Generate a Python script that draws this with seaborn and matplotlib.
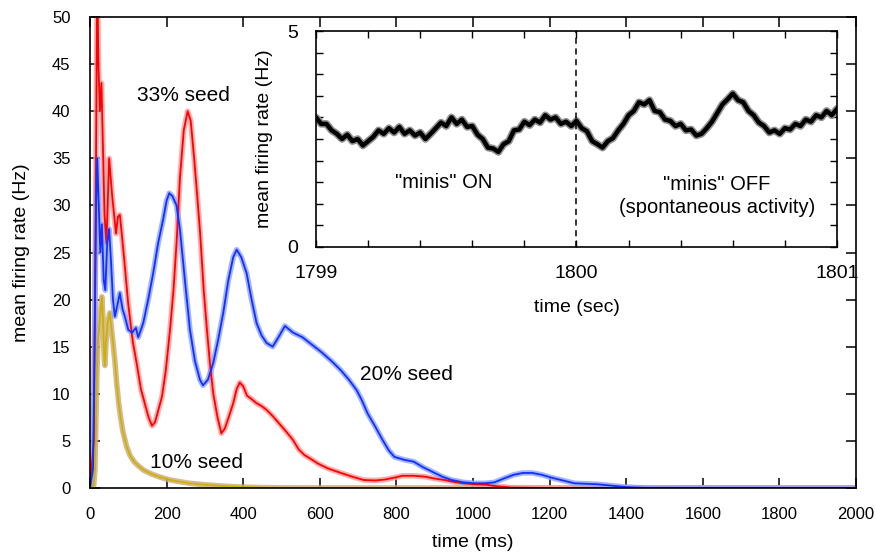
import numpy as np
import pandas as pd
import matplotlib
matplotlib.use("Agg")
import matplotlib.pyplot as plt
import seaborn as sns

# ---------------- data ----------------
red_t = [0, 10, 15, 19, 22, 26, 30, 34, 38, 43, 47, 50, 54, 58, 63, 68, 73, 78, 83, 90,
         100, 112, 123, 133, 143, 153, 162, 170, 180, 188, 198, 209, 218, 226, 235, 245,
         255, 263, 272, 280, 287, 297, 305, 313, 322, 333, 343, 352, 362, 374, 383, 391,
         400, 410, 420, 435, 448, 461, 478, 495, 512, 530, 545, 560, 580, 595, 620, 655,
         685, 715, 745, 770, 795, 816, 845, 876, 900, 926, 950, 975, 1005, 1035, 1060,
         1100, 1200, 2000]
red_v = [0, 5, 30, 55, 45, 40, 43, 36, 29, 26, 31, 35, 33, 31, 29, 27, 28.8, 29, 27, 24,
         19.5, 15.5, 13, 10.5, 9, 7.5, 6.6, 7, 8.5, 9.7, 12.5, 16.8, 21, 26, 33, 38,
         40, 39, 35, 31, 27.4, 21, 17, 13.3, 10, 7.5, 5.8, 6.3, 7.5, 9, 10.5, 11.2,
         10.8, 9.8, 9.5, 9, 8.7, 8.3, 7.6, 6.8, 6.0, 5.1, 4.1, 3.5, 3.0, 2.6, 2.1, 1.6,
         1.2, 0.85, 0.8, 0.9, 1.1, 1.3, 1.3, 1.2, 1.0, 0.85, 0.65, 0.5, 0.4, 0.35, 0.2,
         0.05, 0, 0]

blue_t = [0, 8, 12, 16, 19, 23, 27, 31, 36, 40, 45, 50, 55, 60, 65, 72, 78, 85, 91, 100,
          110, 120, 126, 139, 152, 165, 178, 191, 200, 207, 215, 226, 235, 248, 261, 274,
          287, 295, 308, 322, 335, 348, 361, 374, 383, 395, 409, 422, 435, 448, 461, 477,
          492, 509, 530, 555, 580, 605, 630, 655, 676, 696, 710, 725, 745, 764, 780, 795,
          820, 845, 870, 895, 920, 944, 975, 1004, 1030, 1056, 1080, 1106, 1130, 1155,
          1180, 1205, 1235, 1265, 1295, 1324, 1350, 1374, 1400, 1450, 2000]
blue_v = [0, 2, 15, 30, 35, 30, 25, 28, 22, 21, 26, 27.5, 24, 20, 18.2, 19.5, 20.7, 19,
          18.2, 16.8, 16.5, 17, 16, 17.5, 20, 22.8, 26, 28.5, 30.5, 31.3, 31, 30, 27.4,
          22, 16.8, 13.5, 11.5, 10.9, 11.5, 13.3, 15.8, 18.6, 22, 24.5, 25.3, 24.5, 22.8,
          20, 17.5, 16.2, 15.4, 15, 16, 17.2, 16.5, 16, 15.2, 14.4, 13.5, 12.5, 11.5,
          10.4, 9.3, 7.9, 6.5, 5.1, 4, 3.3, 3, 2.8, 2.2, 1.7, 1.2, 0.85, 0.6, 0.5, 0.5,
          0.6, 1, 1.4, 1.6, 1.6, 1.4, 1.1, 0.8, 0.5, 0.45, 0.4, 0.3, 0.2, 0.1, 0.02, 0]

yel_t = [0, 10, 13, 16, 18, 21, 24, 28, 31, 34, 37, 39, 42, 46, 52, 56, 60, 65, 70, 75,
         80, 86, 95, 104, 115, 125, 140, 160, 180, 204, 230, 260, 300, 350, 400, 450,
         500, 2000]
yel_v = [0, 0.3, 2, 8, 12, 16, 17, 19, 20.3, 18, 14, 13, 15.5, 17.5, 18.6, 17, 15.5,
         13.5, 11, 9, 7.5, 6, 4.5, 3.5, 2.8, 2.4, 1.9, 1.5, 1.2, 0.9, 0.7, 0.5, 0.35,
         0.2, 0.1, 0.05, 0.02, 0]

# inset trace, sampled every 0.02 s from 1799 to 1801
ins_v = [3.00, 2.85, 2.85, 2.70, 2.62, 2.50, 2.60, 2.45, 2.50, 2.35,
         2.45, 2.55, 2.70, 2.62, 2.75, 2.65, 2.78, 2.62, 2.70, 2.58,
         2.65, 2.50, 2.62, 2.75, 2.88, 2.80, 3.00, 2.85, 2.95, 2.78,
         2.80, 2.60, 2.50, 2.30, 2.28, 2.20, 2.38, 2.45, 2.70, 2.72,
         2.90, 2.82, 2.95, 2.88, 3.05, 2.95, 3.00, 2.85, 2.90, 2.80,
         2.92, 2.75, 2.68, 2.45, 2.38, 2.30, 2.45, 2.52, 2.70, 2.85,
         3.05, 3.15, 3.35, 3.30, 3.40, 3.15, 3.12, 2.95, 2.92, 2.80,
         2.85, 2.70, 2.72, 2.58, 2.62, 2.75, 2.90, 3.10, 3.30, 3.42,
         3.55, 3.40, 3.35, 3.15, 3.05, 2.88, 2.80, 2.65, 2.70, 2.62,
         2.75, 2.72, 2.85, 2.80, 2.95, 2.90, 3.05, 3.00, 3.15, 3.05,
         3.20]
ins_t = np.round(np.linspace(1799, 1801, len(ins_v)), 2)

x_ticks = [0, 200, 400, 600, 800, 1000, 1200, 1400, 1600, 1800, 2000]
y_ticks = [0, 5, 10, 15, 20, 25, 30, 35, 40, 45, 50]
inset_xticks = [1799, 1800, 1801]
inset_yticks = [0, 5]

# ---------------- style ----------------
sns.set_theme(style="ticks")
plt.rcParams['font.family'] = ['Liberation Sans', 'DejaVu Sans']
plt.rcParams['axes.linewidth'] = 1.2
plt.rcParams['text.color'] = 'black'
plt.rcParams['axes.labelcolor'] = 'black'
plt.rcParams['xtick.color'] = 'black'
plt.rcParams['ytick.color'] = 'black'

fig = plt.figure(figsize=(8.76, 5.54), dpi=100)
ax = fig.add_axes([0.1027, 0.1191, 0.8745, 0.8502])

series = [
    (yel_t, yel_v, "#c8b400", "#cfa87c"),
    (red_t, red_v, "#ff0000", "#ff9a9a"),
    (blue_t, blue_v, "#1030ff", "#8ea2ff"),
]
for t, v, c, pale in series:
    df = pd.DataFrame({"t": t, "v": v})
    sns.lineplot(data=df, x="t", y="v", ax=ax, color=pale, lw=4.0, alpha=0.8)
for t, v, c, pale in series:
    df = pd.DataFrame({"t": t, "v": v})
    sns.lineplot(data=df, x="t", y="v", ax=ax, color=c, lw=1.3)

ax.set_xlim(0, 2000)
ax.set_ylim(0, 50)
ax.set_xticks(x_ticks)
ax.set_yticks(y_ticks)
ax.tick_params(direction="in", length=7, width=1.1, top=True, right=True,
               labelsize=12, colors="black")
ax.tick_params(axis="y", pad=14)
ax.tick_params(axis="x", pad=14)
for s in ax.spines.values():
    s.set_visible(True)
    s.set_color("black")
ax.set_xlabel("time (ms)", fontsize=14, labelpad=8, color="black")
ax.set_ylabel("mean firing rate (Hz)", fontsize=14, labelpad=16, color="black")

ax.text(245, 41.7, "33% seed", fontsize=15, ha="center", va="center", color="black")
ax.text(825, 12.0, "20% seed", fontsize=15, ha="center", va="center", color="black")
ax.text(277, 2.76, "10% seed", fontsize=15, ha="center", va="center", color="black")

# ---------------- inset ----------------
ins = fig.add_axes([0.3607, 0.5542, 0.5948, 0.3898])
dfi = pd.DataFrame({"t": ins_t, "v": ins_v})
sns.lineplot(data=dfi, x="t", y="v", ax=ins, color="#909090", lw=5.5)
sns.lineplot(data=dfi, x="t", y="v", ax=ins, color="black", lw=3.2)
ins.axvline(1800, color="black", ls=(0, (4, 3)), lw=1.1)
ins.set_xlim(1799, 1801)
ins.set_ylim(0, 5)
ins.set_xticks(inset_xticks)
ins.set_xticklabels([str(v) for v in inset_xticks])
ins.set_yticks(inset_yticks)
ins.set_xticks(np.arange(1799, 1801.001, 0.2), minor=True)
ins.set_yticks(np.arange(0, 5.001, 0.5), minor=True)
ins.tick_params(which="both", direction="in", length=5, width=1.0, top=True,
                right=True, labelsize=14, pad=13, colors="black")
ins.tick_params(which="minor", length=5)
for s in ins.spines.values():
    s.set_visible(True)
    s.set_color("black")
ins.set_xlabel("time (sec)", fontsize=14, labelpad=12, color="black")
ins.set_ylabel("mean firing rate (Hz)", fontsize=14, labelpad=10, color="black")
ins.text(1799.49, 1.5, '"minis" ON', fontsize=14.5, ha="center", va="center",
         color="black")
ins.text(1800.54, 1.45, '"minis" OFF', fontsize=14.5, ha="center", va="center",
         color="black")
ins.text(1800.54, 0.92, '(spontaneous activity)', fontsize=14.5, ha="center",
         va="center", color="black")

fig.savefig("out.png", dpi=100)
